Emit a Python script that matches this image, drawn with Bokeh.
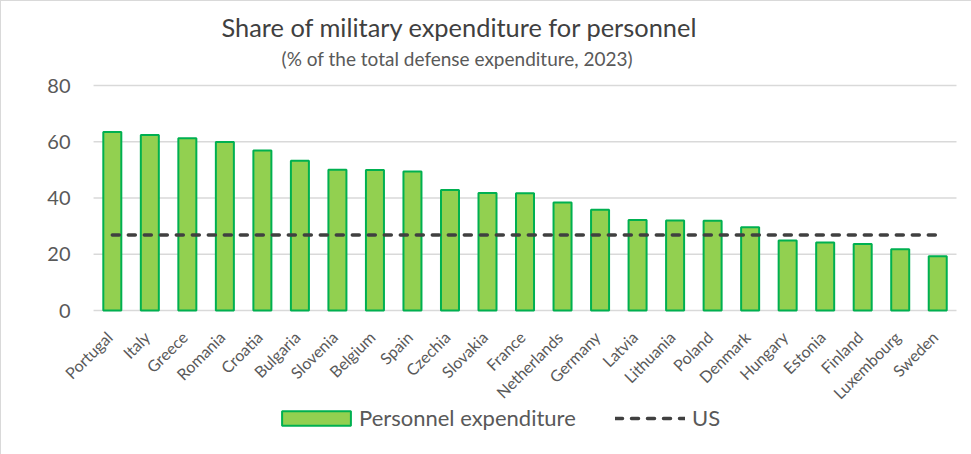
from bokeh.plotting import figure
from bokeh.models import Range1d, Legend, LegendItem, ColumnDataSource
from bokeh.core.properties import value
from bokeh.embed import file_html
from bokeh.resources import INLINE
from math import pi

countries = ["Portugal", "Italy", "Greece", "Romania", "Croatia", "Bulgaria", "Slovenia",
             "Belgium", "Spain", "Czechia", "Slovakia", "France", "Netherlands", "Germany",
             "Latvia", "Lithuania", "Poland", "Denmark", "Hungary", "Estonia", "Finland",
             "Luxembourg", "Sweden"]
personnel = [63.5, 62.4, 61.3, 59.9, 56.9, 53.3, 50.1, 50.0, 49.4, 42.9, 41.8, 41.7, 38.4,
             35.8, 32.2, 32.0, 31.9, 29.6, 24.9, 24.2, 23.7, 21.8, 19.3]
us_share = 26.9
y_ticks = [0, 20, 40, 60, 80]
y_tick_labels = ["0", "20", "40", "60", "80"]

title_text = "Share of military expenditure for personnel"
subtitle_text = "(%  of the total defense expenditure, 2023)"

FONT = "Lato"
GREY = "#595959"

n = len(countries)
xc = [i + 0.5 for i in range(n)]          # category centres on the numeric scale
us_line = [us_share for _ in countries]

p = figure(x_range=Range1d(-2.4533, n + 0.4), y_range=Range1d(-51.2, 109.9),
           frame_width=970, frame_height=453,
           min_border_left=0, min_border_right=0, min_border_top=0, min_border_bottom=0,
           output_backend="svg", toolbar_location=None,
           styles={"border-left": "1px solid #D9D9D9", "border-top": "1px solid #D9D9D9"})
p.outline_line_color = None
p.background_fill_color = "white"
p.border_fill_color = "white"
p.xaxis.visible = False
p.yaxis.visible = False
p.xgrid.visible = False
p.ygrid.visible = False

# horizontal gridlines over the category span
p.segment(x0=[0] * len(y_ticks), x1=[n] * len(y_ticks), y0=y_ticks, y1=y_ticks,
          line_color="#D9D9D9", line_width=1.5)

# y tick labels
p.text(x=[-0.613] * len(y_ticks), y=y_ticks, text=y_tick_labels, text_align="right",
       text_baseline="middle", text_font=value(FONT), text_font_size="20px",
       text_color=GREY)

src = ColumnDataSource(dict(x=xc, name=countries, val=personnel, us=us_line,
                            ly=[-8.4] * n))
bars = p.vbar(x="x", top="val", width=0.48, source=src, fill_color="#92D050",
              line_color="#00B050", line_width=2)
usl = p.line(x="x", y="us", source=src, line_color="#404040", line_width=3.5,
             line_dash="7 9", line_cap="round")

# rotated category labels
p.text(x="x", y="ly", text="name", source=src, x_offset=-3,
       angle=pi / 4, text_align="right", text_baseline="middle",
       text_font=value(FONT), text_font_size="16px", text_color=GREY)

# titles
p.text(x=[9.76], y=[100.9], text=[title_text], text_align="center",
       text_baseline="alphabetic", text_font=value(FONT), text_font_size="25.4px",
       text_color="#404040")
p.text(x=[9.76], y=[89.7], text=[subtitle_text], text_align="center",
       text_baseline="alphabetic", text_font=value(FONT), text_font_size="19px",
       text_color=GREY)

common = dict(orientation="horizontal", label_text_font=FONT, label_text_font_size="22px",
              label_text_color=GREY, border_line_color=None, background_fill_alpha=0,
              padding=4, margin=0)
leg1 = Legend(items=[LegendItem(label="Personnel expenditure", renderers=[bars])],
              location=(272, 23), glyph_width=86, glyph_height=18, label_standoff=0,
              **common)
leg2 = Legend(items=[LegendItem(label="US", renderers=[usl])],
              location=(614, 23), glyph_width=70, glyph_height=14, label_standoff=7,
              **common)
p.add_layout(leg1, "center")
p.add_layout(leg2, "center")

open("out.html", "w").write(file_html(p, INLINE))
